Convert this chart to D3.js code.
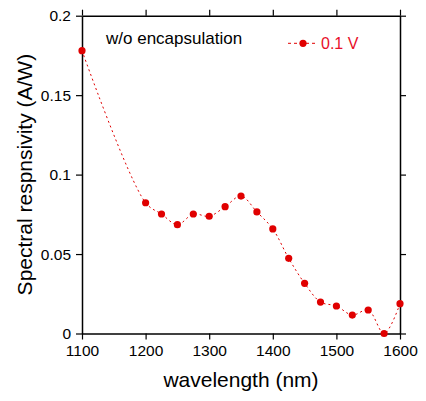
<!DOCTYPE html>
<html><head><meta charset="utf-8">
<script src="https://cdn.jsdelivr.net/npm/d3@7"></script>
<style>body{margin:0;background:#fff}svg{display:block}text{font-family:"Liberation Sans",Arial,sans-serif}</style>
</head><body><svg id="c" width="426" height="401"></svg>
<script>
const wavelengths = [1100,1200,1225,1250,1275,1300,1325,1350,1375,1400,1425,1450,1475,1500,1525,1550,1575,1600];
const responsivity = [0.178,0.0823,0.0752,0.0685,0.0752,0.0738,0.0798,0.0865,0.0765,0.0658,0.0473,0.0316,0.0198,0.0173,0.0116,0.0148,0.0,0.0188];
const xTicks = [1100,1200,1300,1400,1500,1600];
const yTicks = [0,0.05,0.1,0.15,0.2];
const yTickLabels = ["0","0.05","0.1","0.15","0.2"];
const seriesName = "0.1 V";
const note = "w/o encapsulation";

const svg = d3.select("#c");
const m = {l:82, r:26, t:15.7, b:67.5};
const W = 426, H = 401;
const x = d3.scaleLinear().domain([1100,1600]).range([m.l, W-m.r]);
const y = d3.scaleLinear().domain([0,0.2]).range([H-m.b, m.t]);
const red = "#e00000";

function styleAxis(g){
  g.select(".domain").attr("stroke","#000").attr("stroke-width",1.5);
  g.selectAll(".tick line").attr("stroke","#000").attr("stroke-width",1.2);
  g.selectAll("text").attr("font-size","15.5px").attr("fill","#000").attr("font-family",'"Liberation Sans",Arial,sans-serif');
}
svg.append("g").attr("transform",`translate(0,${y(0)})`)
  .call(d3.axisBottom(x).tickValues(xTicks).tickSize(6).tickPadding(5).tickSizeOuter(0).tickFormat(d3.format("d")))
  .call(styleAxis);
svg.append("g").attr("transform",`translate(0,${y(0.2)})`)
  .call(d3.axisTop(x).tickValues(xTicks).tickSize(6).tickSizeOuter(0).tickFormat(""))
  .call(styleAxis);
svg.append("g").attr("transform",`translate(${x(1100)},0)`)
  .call(d3.axisLeft(y).tickValues(yTicks).tickSize(6).tickPadding(5).tickSizeOuter(0).tickFormat((d,i)=>yTickLabels[i]))
  .call(styleAxis);
svg.append("g").attr("transform",`translate(${x(1600)},0)`)
  .call(d3.axisRight(y).tickValues(yTicks).tickSize(6).tickSizeOuter(0).tickFormat(""))
  .call(styleAxis);

const data = wavelengths.map((w,i)=>({w, v:responsivity[i]}));
const line = d3.line().x(d=>x(d.w)).y(d=>y(d.v)).curve(d3.curveCatmullRom.alpha(0.5));
svg.append("path").datum(data).attr("d",line).attr("fill","none")
  .attr("stroke",red).attr("stroke-width",1).attr("stroke-dasharray","2,3");
svg.selectAll("circle.pt").data(data).enter().append("circle").attr("class","pt")
  .attr("cx",d=>x(d.w)).attr("cy",d=>y(d.v)).attr("r",3.6).attr("fill",red);

// annotation
svg.append("text").attr("x",106).attr("y",44).attr("font-size","17px").attr("fill","#000").text(note);

// legend
svg.append("line").attr("x1",288).attr("x2",318).attr("y1",43.3).attr("y2",43.3)
  .attr("stroke",red).attr("stroke-width",1).attr("stroke-dasharray","3,3");
svg.append("circle").attr("cx",303).attr("cy",43.3).attr("r",3.6).attr("fill",red);
svg.append("text").attr("x",321).attr("y",49).attr("font-size","16px").attr("fill","#e8102a").text(seriesName);

// axis titles
svg.append("text").attr("x",(x(1100)+x(1600))/2).attr("y",387).attr("text-anchor","middle")
  .attr("font-size","21px").attr("fill","#000").text("wavelength (nm)");
svg.append("text").attr("transform",`translate(32,${(y(0)+y(0.2))/2}) rotate(-90)`).attr("text-anchor","middle")
  .attr("font-size","21px").attr("fill","#000").text("Spectral respnsivity (A/W)");
</script></body></html>
